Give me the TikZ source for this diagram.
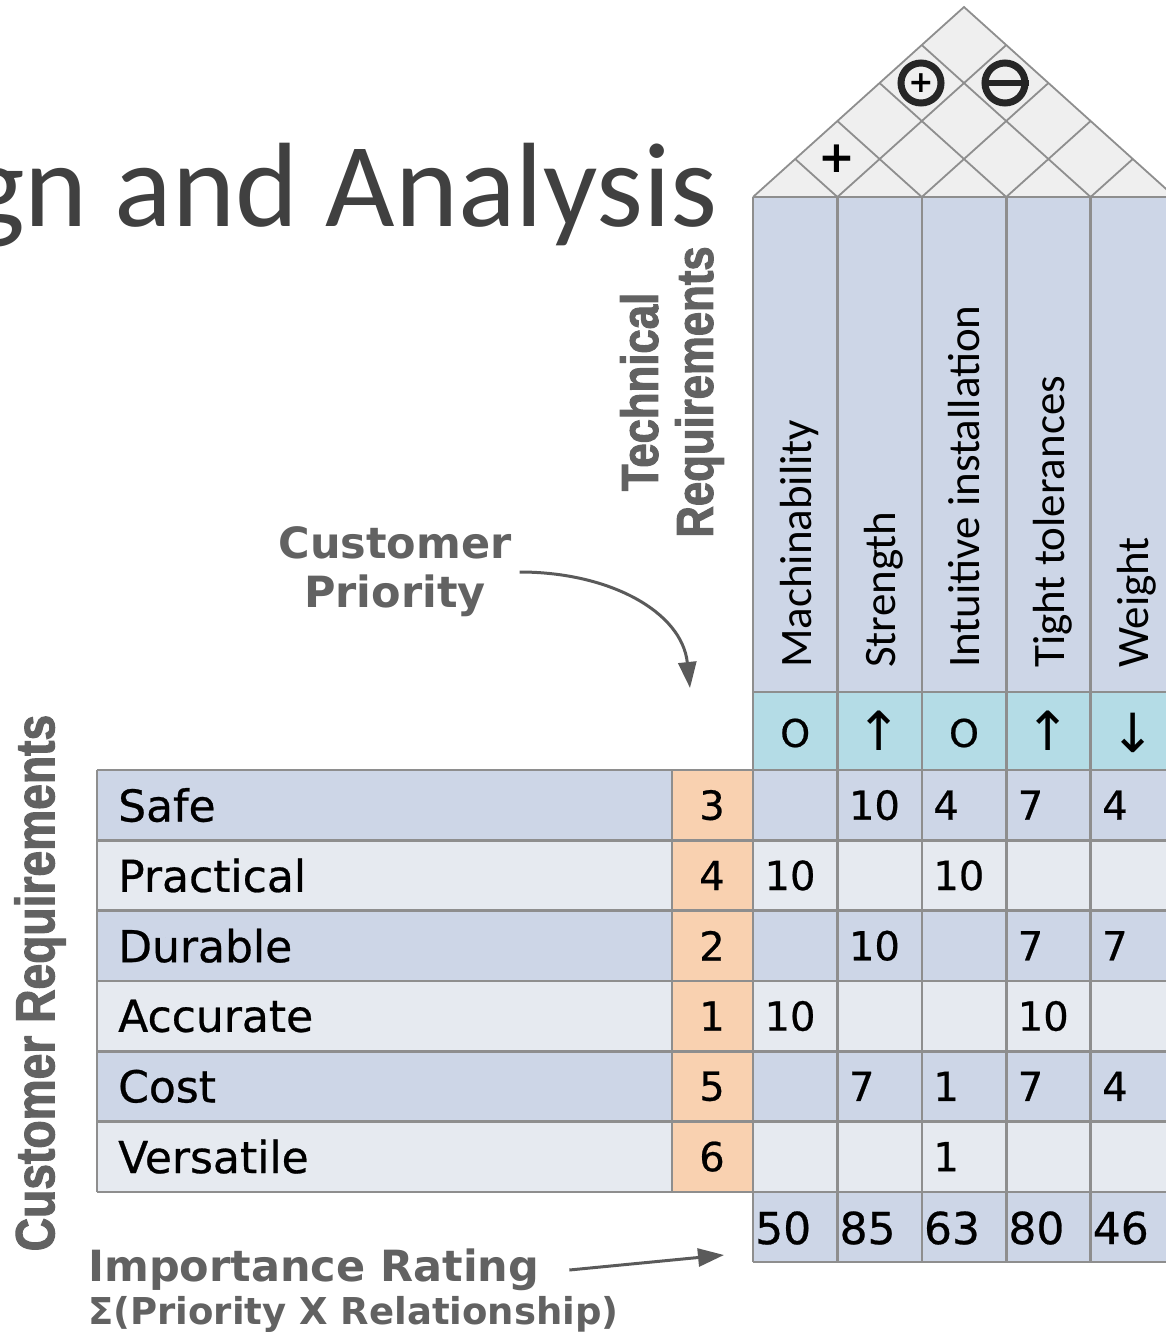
\documentclass[tikz,border=0pt]{standalone}
\usepackage{fontspec}
\setmainfont{Carlito}
\newfontfamily\verdfont{DejaVu Sans}
\newfontfamily\tablafont[FakeBold=0.6]{DejaVu Sans}
\newfontfamily\narrowfont[FakeStretch=0.84, FakeBold=2]{Liberation Sans Bold}
\usetikzlibrary{arrows.meta,positioning}
\definecolor{filaoscura}{HTML}{CDD6E7}
\definecolor{filaclara}{HTML}{E6EAF0}
\definecolor{cianencabezado}{HTML}{B4DCE6}
\definecolor{naranjaprioridad}{HTML}{F9D1B0}
\definecolor{grisborde}{HTML}{8E8E8E}
\definecolor{tejado}{HTML}{EFEFEF}
\definecolor{gristexto}{HTML}{626262}
\definecolor{gristitulo}{HTML}{404040}
\definecolor{grisflecha}{HTML}{5A5A5A}

\begin{document}
\begin{tikzpicture}[
    x=1pt, y=-1pt,
    rejilla/.style={draw=grisborde, line width=2.6pt},
    lineatejado/.style={draw=grisborde, line width=1.8pt},
    textofila/.style={font={\tablafont\fontsize{44}{50}\selectfont}, anchor=west, inner sep=0pt},
    numero/.style={font={\tablafont\fontsize{40}{48}\selectfont}, inner sep=0pt},
    importe/.style={font={\tablafont\fontsize{44}{50}\selectfont}, anchor=west, inner sep=0pt},
    titulocol/.style={font={\fontsize{45}{54}\selectfont}, rotate=90, anchor=base west, inner sep=0pt},
    simbolo/.style={font={\tablafont\fontsize{38}{50}\selectfont}, inner sep=0pt},
    flechita/.style={font={\verdfont\fontsize{54}{54}\selectfont}, inner sep=0pt},
    rotulo/.style={font={\narrowfont\fontsize{52}{55}\selectfont}, text=gristexto, align=center, inner sep=0pt},
    rotuloancho/.style={font={\verdfont\bfseries\fontsize{43}{49}\selectfont}, text=gristexto, inner sep=0pt},
    correlacion/.style={circle, draw=black!85, line width=7pt, minimum size=40pt, inner sep=0pt},
    flecha/.style={-{Triangle[length=26pt,width=18pt]}, line width=3pt, draw=grisflecha}
  ]
    \useasboundingbox (0,0) rectangle (1166,1338);

    \node[font={\fontsize{120}{130}\selectfont}, text=gristitulo, anchor=base east, inner sep=0pt] (titulo) at (718,226) {gn and Analysis};

    % tejado de correlaciones
    \fill[tejado] (753,197) -- (964,7) -- (1175,197) -- cycle;
    \foreach \k in {1,...,4}{
      \pgfmathsetmacro\xb{753+84.4*\k}
      \pgfmathsetmacro\tl{(\xb-753)/2}
      \pgfmathsetmacro\tr{(1175-\xb)/2}
      \draw[lineatejado] (\xb-\tl,197-0.9*\tl) -- (\xb,197) -- (\xb+\tr,197-0.9*\tr);
    }
    \draw[lineatejado] (753,197) -- (964,7) -- (1175,197);
    \node[font={\verdfont\bfseries\fontsize{44}{44}\selectfont}, inner sep=0pt] (corrmaqres) at (837,159) {+};
    \node[correlacion] (corrmaqtol) at (921,83) {\verdfont\bfseries\fontsize{30}{30}\selectfont +};
    \node[correlacion] (corrrespes) at (1005,83) {};
    \draw[line width=6pt, draw=black!85] (corrrespes.west) -- (corrrespes.east);

    % cabecera tecnica
    \fill[filaoscura] (753,197) rectangle (1175,692);
    \fill[cianencabezado] (753,692) rectangle (1175,770);
    \fill[filaoscura] (753,1192) rectangle (1175,1262);

    % filas de requisitos
    \foreach \req/\prio/\celdas [count=\i] in {Safe/3/{2/10,3/4,4/7,5/4}, Practical/4/{1/10,3/10},
        Durable/2/{2/10,4/7,5/7}, Accurate/1/{1/10,4/10}, Cost/5/{2/7,3/1,4/7,5/4}, Versatile/6/{3/1}}{
      \pgfmathsetmacro\yc{770+70.3*(\i-0.5)}
      \ifodd\i \def\relleno{filaoscura}\else \def\relleno{filaclara}\fi
      \fill[\relleno] (97,\yc-35.15) rectangle (1175,\yc+35.15);
      \fill[naranjaprioridad] (672,\yc-35.15) rectangle (753,\yc+35.15);
      \node[textofila] (req\i) at (118,\yc) {\req};
      \node[numero] (prio\i) at (712,\yc) {\prio};
      \foreach \c/\v in \celdas
        \node[numero, anchor=west] (m\i\c) at (680+84.4*\c,\yc) {\v};
    }

    % rejilla
    \draw[rejilla] (753,197) -- (1175,197);
    \draw[rejilla] (753,692) -- (1175,692);
    \draw[rejilla] (753,1262) -- (1175,1262);
    \foreach \k in {0,...,6}
      \draw[rejilla] (97,770+70.3*\k) -- (1175,770+70.3*\k);
    \draw[rejilla] (97,770) -- (97,1192);
    \draw[rejilla] (672,770) -- (672,1192);
    \foreach \k in {0,...,5}
      \draw[rejilla] (753+84.4*\k,197) -- (753+84.4*\k,1262);

    \foreach \nombre [count=\j] in {Machinability, Strength, Intuitive installation, Tight tolerances, Weight}
      \node[titulocol] (tec\j) at (726.6+84.4*\j,668) {\nombre};
    \node[simbolo] (dir1) at (795.2,733) {O};
    \node[flechita] (dir2) at (879.6,731) {↑};
    \node[simbolo] (dir3) at (964.0,733) {O};
    \node[flechita] (dir4) at (1048.4,731) {↑};
    \node[flechita] (dir5) at (1132.8,733) {↓};
    \foreach \v [count=\j] in {50,85,63,80,46}
      \node[importe] (imp\j) at (670.6+84.4*\j,1228) {\v};

    % rotulos
    \node[rotulo, rotate=90] (tecreq) at (672,392) {Technical\\Requirements};
    \node[rotulo, rotate=90, font={\narrowfont\fontsize{55}{55}\selectfont}] (clireq) at (40,983) {Customer Requirements};
    \node[rotuloancho, align=center] (custprio) at (395,572) {Customer\\Priority};
    \node[rotuloancho, anchor=west] (implabel) at (88,1270) {Importance Rating};
    \node[rotuloancho, font={\verdfont\bfseries\fontsize{37}{40}\selectfont}, anchor=west] (impformula) at (88,1314) {Σ(Priority X Relationship)};

    \coordinate (priotip) at (690,688);
    \coordinate (imptip) at (724,1255);
    \draw[flecha] ([xshift=8pt]custprio.east) .. controls (610,572) and (682,612) .. (priotip);
    \draw[flecha] ([xshift=30pt]implabel.east) -- (imptip);
\end{tikzpicture}
\end{document}
